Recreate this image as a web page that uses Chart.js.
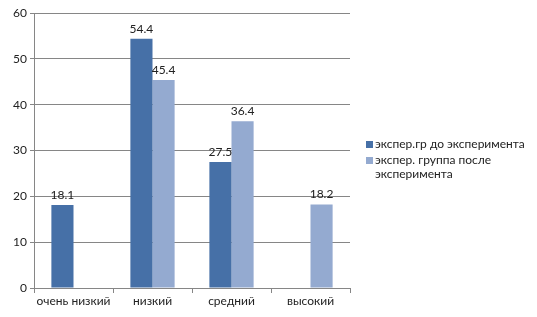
<!DOCTYPE html>
<html>
<head>
<meta charset="utf-8">
<script src="https://cdn.jsdelivr.net/npm/chart.js@4"></script>
<style>
  body { margin: 0; background: #fff; }
  #wrap { position: relative; width: 537px; height: 317px; }
  #legend { position: absolute; left: 366px; top: 137px; font: 12px Lato, sans-serif; color: #222; }
  #legend div { position: relative; padding-left: 9px; line-height: 14.5px; margin-bottom: 1px; }
  #legend span { position: absolute; left: 0; top: 4px; width: 7px; height: 7px; }
</style>
</head>
<body>
<div id="wrap">
  <canvas id="grafico" width="537" height="317"></canvas>
  <div id="legend"></div>
</div>
<script>
const categorias = ['очень низкий', 'низкий', 'средний', 'высокий'];
const doExperimento = [18.1, 54.4, 27.5, null];
const posleExperimenta = [null, 45.4, 36.4, 18.2];
const nomesSeries = ['экспер.гр до эксперимента', 'экспер. группа после\nэксперимента'];
const cores = ['#4670A7', '#94AAD0'];

// Rótulos de valor acima das barras
const rotulos = {
    id: 'rotulos',
    afterDatasetsDraw(chart) {
        const ctx = chart.ctx;
        ctx.save();
        ctx.font = '12px Lato, sans-serif';
        ctx.fillStyle = '#222';
        ctx.textAlign = 'center';
        ctx.textBaseline = 'bottom';
        chart.data.datasets.forEach((ds, i) => {
            chart.getDatasetMeta(i).data.forEach((bar, j) => {
                if (ds.data[j] == null) return;
                ctx.fillText(ds.data[j].toFixed(1), bar.x, bar.y - 4);
            });
        });
        ctx.restore();
    }
};

const ctx = document.getElementById('grafico').getContext('2d');
new Chart(ctx, {
    type: 'bar',
    data: {
        labels: categorias,
        datasets: [
            { label: nomesSeries[0], data: doExperimento, backgroundColor: cores[0] },
            { label: nomesSeries[1], data: posleExperimenta, backgroundColor: cores[1] }
        ]
    },
    options: {
        responsive: false,
        animation: false,
        layout: { padding: { top: 13, right: 187, left: 0, bottom: 0 } },
        datasets: { bar: { categoryPercentage: 0.56, barPercentage: 1.0 } },
        scales: {
            x: {
                grid: { offset: true, drawOnChartArea: false, tickLength: 5, color: '#868686' },
                border: { color: '#868686' },
                ticks: { color: '#222', font: { family: 'Lato', size: 12 }, padding: 1, maxRotation: 0, minRotation: 0, autoSkip: false },
                afterFit(s) { s.height = 29; }
            },
            y: {
                min: 0, max: 60,
                grid: { color: '#868686', tickLength: 4 },
                border: { color: '#868686' },
                ticks: { stepSize: 10, color: '#222', font: { family: 'Lato', size: 12 }, padding: 3 },
                afterFit(s) { s.width = 34; }
            }
        },
        plugins: {
            legend: { display: false },
            tooltip: { enabled: false }
        }
    },
    plugins: [rotulos]
});

// Legenda em HTML (texto com quebra de linha)
const leg = document.getElementById('legend');
nomesSeries.forEach((nome, i) => {
    const d = document.createElement('div');
    d.innerHTML = '<span style="background:' + cores[i] + '"></span>' + nome.replace('\n', '<br>');
    leg.appendChild(d);
});
</script>
</body>
</html>
